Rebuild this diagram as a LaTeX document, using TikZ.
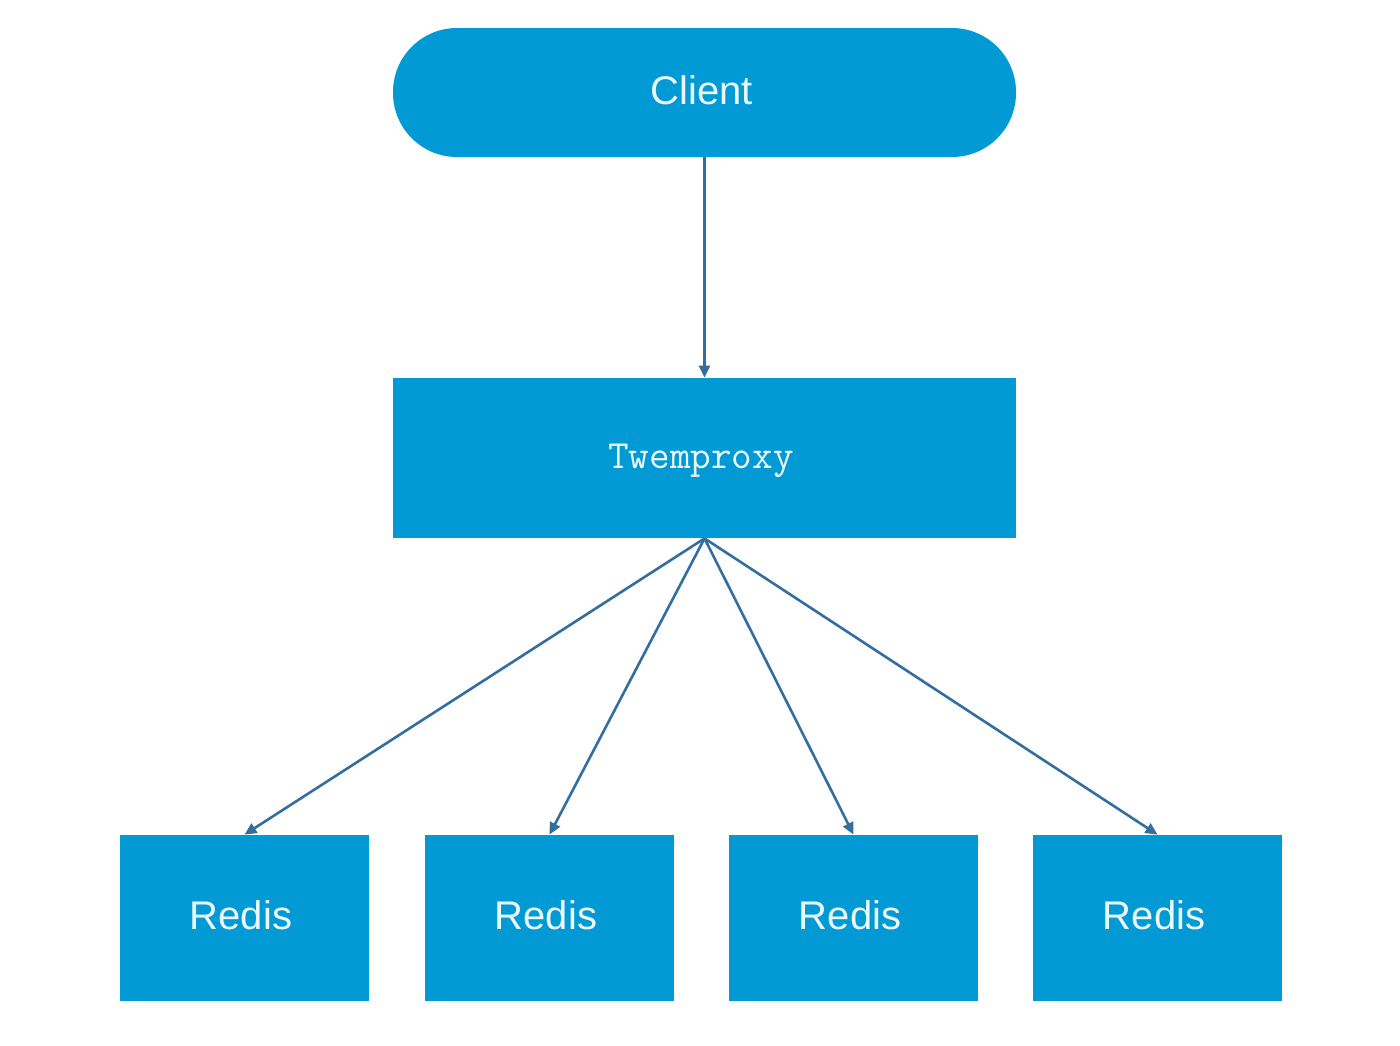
\documentclass[tikz,border=0pt]{standalone}
\usepackage{fontspec}
\setmainfont{Liberation Sans}
\setmonofont{Latin Modern Mono}
\usetikzlibrary{arrows.meta}
\definecolor{boxblue}{RGB}{2,154,212}
\definecolor{linkblue}{RGB}{50,110,160}
\definecolor{txtwhite}{RGB}{235,248,255}
\tikzset{
  x=0.5pt, y=-0.5pt,
  bluebox/.style={fill=boxblue, draw=none, inner sep=0pt, text=txtwhite},
  link/.style={draw=linkblue, line width=1.3pt, -{Triangle[length=6pt,width=5.5pt]}},
  lbl/.style={text=txtwhite, inner sep=0pt},
}
\begin{document}
\begin{tikzpicture}
\useasboundingbox[fill=white] (0,0) rectangle (1400,1045);
\node[bluebox, rounded corners=32pt, minimum width=311.5pt, minimum height=64.5pt] (client) at (704.5,92.5) {};
\node[lbl, font=\fontsize{20}{24}\selectfont] (clientlbl) at (701.5,90) {Client};
\node[bluebox, minimum width=311.5pt, minimum height=80pt] (proxy) at (704.5,458) {};
\node[lbl, font=\ttfamily\fontsize{20}{24}\selectfont] (proxylbl) at (701,461) {Twemproxy};
\foreach \i/\cx in {1/244.5, 2/549.5, 3/853.5, 4/1157.5} {
  \node[bluebox, minimum width=124.5pt, minimum height=83pt] (r\i) at (\cx,918) {};
  \node[lbl, font=\fontsize{20}{24}\selectfont] (r\i lbl) at (\cx-3.5,915) {Redis};
}
\draw[link] (client.south) -- (proxy.north);
\foreach \i in {1,2,3,4} {
  \draw[link] (proxy.south) -- (r\i.north);
}
\end{tikzpicture}
\end{document}
